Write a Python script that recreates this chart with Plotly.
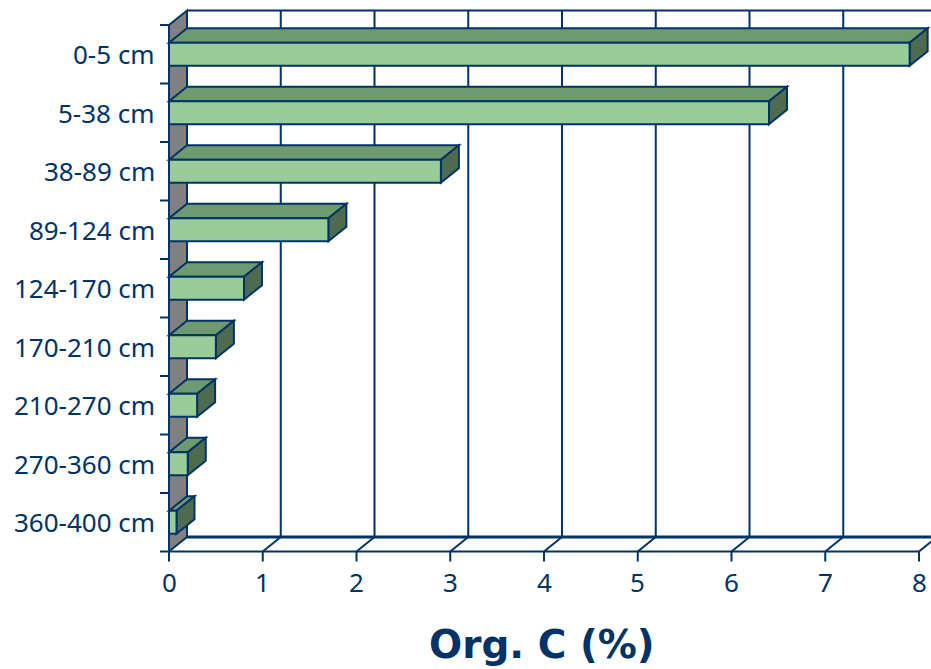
import plotly.graph_objects as go

# Soil organic carbon by depth horizon
depths = ["0-5 cm", "5-38 cm", "38-89 cm", "89-124 cm", "124-170 cm",
          "170-210 cm", "210-270 cm", "270-360 cm", "360-400 cm"]
org_c = [7.9, 6.4, 2.9, 1.7, 0.8, 0.5, 0.3, 0.2, 0.08]
x_ticks = [0, 1, 2, 3, 4, 5, 6, 7, 8]
x_title = "Org. C (%)"

W, H = 931, 669
NAVY = "#003366"
FRONT = "#99CC99"
TOP = "#6F9A6F"
SIDE = "#4F6B4F"
WALL = "#808080"
TICK_FONT = dict(family="Noto Sans", size=26, color=NAVY)

# pixel geometry of the pseudo-3D box
X0_PX, PX_PER_X = 169.0, 93.75
Y0_PX, PX_PER_ROW = 551.5, 58.5
DX = 18.0 / PX_PER_X          # depth offset, value units
DY = 14.5 / PX_PER_ROW        # depth offset, row units
HALF = 11.5 / PX_PER_ROW      # half bar thickness
n = len(depths)
xmax = max(x_ticks)

x_range = [-X0_PX / PX_PER_X, (W - X0_PX) / PX_PER_X]
y_range = [-(H - Y0_PX) / PX_PER_ROW, Y0_PX / PX_PER_ROW]

shapes = []


def line(x0, y0, x1, y1, w=2):
    shapes.append(dict(type="line", xref="x", yref="y", x0=x0, y0=y0, x1=x1, y1=y1,
                       line=dict(color=NAVY, width=w)))


def poly(pts, fill, w=2):
    d = "M " + " L ".join(f"{px},{py}" for px, py in pts) + " Z"
    shapes.append(dict(type="path", xref="x", yref="y", path=d, fillcolor=fill,
                       line=dict(color=NAVY, width=w)))


# back wall: gridlines and top edge
for v in x_ticks[1:]:
    line(v + DX, DY, v + DX, n + DY)
line(DX, n + DY, xmax + DX, n + DY)

# left side wall
poly([(0, n), (DX, n + DY), (DX, DY), (0, 0)], WALL)

# floor
line(DX, DY, xmax + DX, DY, 3)
line(0, 0, xmax, 0, 2)
for v in x_ticks[1:]:
    line(v, 0, v + DX, DY)

# tick marks
for v in x_ticks:
    line(v, 0, v, -10.0 / PX_PER_ROW)
for r in range(n + 1):
    line(0, r, -9.0 / PX_PER_X, r)

# bars
for i, val in enumerate(org_c):
    c = n - i - 0.5
    lo, hi = c - HALF, c + HALF
    poly([(0, hi), (DX, hi + DY), (val + DX, hi + DY), (val, hi)], TOP)
    poly([(val, lo), (val, hi), (val + DX, hi + DY), (val + DX, lo + DY)], SIDE)
    poly([(0, lo), (val, lo), (val, hi), (0, hi)], FRONT)

annotations = []
for i, name in enumerate(depths):
    annotations.append(dict(x=-12.0 / PX_PER_X, y=n - i - 0.5, xref="x", yref="y",
                            text=name, showarrow=False, xanchor="right", yanchor="middle",
                            font=TICK_FONT))
for v in x_ticks:
    annotations.append(dict(x=v, y=-30.0 / PX_PER_ROW, xref="x", yref="y",
                            text=str(v), showarrow=False, xanchor="center", yanchor="middle",
                            font=TICK_FONT))
annotations.append(dict(x=(542 - X0_PX) / PX_PER_X, y=-(644 - Y0_PX) / PX_PER_ROW,
                        xref="x", yref="y", text="<b>" + x_title + "</b>", showarrow=False,
                        xanchor="center", yanchor="middle",
                        font=dict(family="DejaVu Sans", size=39, color=NAVY)))

fig = go.Figure(go.Scatter(x=org_c, y=[n - i - 0.5 for i in range(n)], mode="markers",
                           marker=dict(opacity=0), hoverinfo="skip", showlegend=False))
fig.update_layout(
    width=W, height=H, margin=dict(l=0, r=0, t=0, b=0),
    paper_bgcolor="white", plot_bgcolor="white",
    xaxis=dict(range=x_range, visible=False, fixedrange=True),
    yaxis=dict(range=y_range, visible=False, fixedrange=True),
    shapes=shapes, annotations=annotations, showlegend=False,
)
fig.write_html("out.html")
